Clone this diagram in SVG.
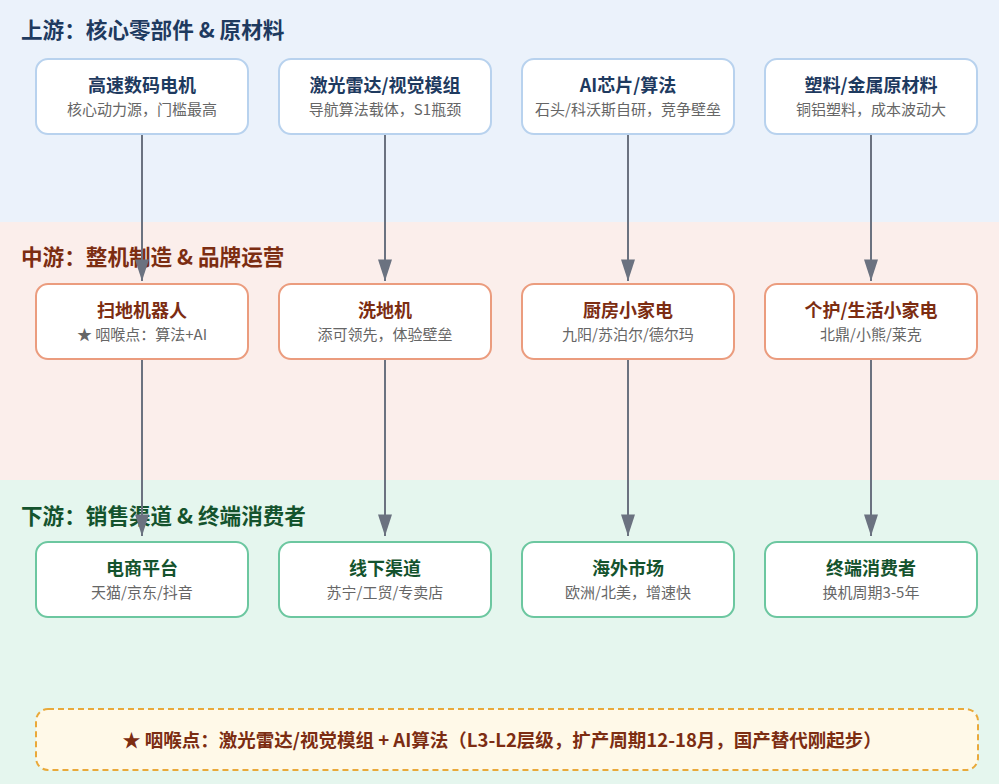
<svg xmlns="http://www.w3.org/2000/svg" width="999" height="784" viewBox="0 0 999 784">
<defs>
<style>
text{font-family:"Noto Sans CJK SC","Noto Sans",sans-serif}
.sec{font-size:21.6px;font-weight:700}
.t{font-size:18px;font-weight:700;text-anchor:middle}
.s{font-size:15px;fill:#666;text-anchor:middle}
.up rect{fill:#fff;stroke:#b8d2ee;stroke-width:2}
.up .t{fill:#1e3a5f}
.mid rect{fill:#fff;stroke:#eb9c7e;stroke-width:2}
.mid .t{fill:#7c2d12}
.dn rect{fill:#fff;stroke:#6cc7a0;stroke-width:2}
.dn .t{fill:#14532d}
.conn line{stroke:#6b7280;stroke-width:2}
</style>
<marker id="ah" markerUnits="userSpaceOnUse" markerWidth="22" markerHeight="14" viewBox="0 0 20 13" refX="20" refY="6.5" orient="auto">
<path d="M0,0 L20,6.5 L0,13 z" fill="#6b7280"/>
</marker>
</defs>
<rect x="0" y="0" width="999" height="222" fill="#ebf2fb"/>
<rect x="0" y="222" width="999" height="258" fill="#fbeeeb"/>
<rect x="0" y="480" width="999" height="304" fill="#e5f6ee"/>
<text class="sec" x="21" y="38" fill="#1e3a5f">上游：核心零部件 &amp; 原材料</text>
<text class="sec" x="21" y="265" fill="#7c2d12">中游：整机制造 &amp; 品牌运营</text>
<text class="sec" x="21" y="524" fill="#14532d">下游：销售渠道 &amp; 终端消费者</text>
<g id="n_motor" class="up"><rect x="36" y="59" width="212" height="75" rx="12"/><text class="t" x="142" y="92">高速数码电机</text><text class="s" x="142" y="115">核心动力源，门槛最高</text></g>
<g id="n_lidar" class="up"><rect x="279" y="59" width="212" height="75" rx="12"/><text class="t" x="385" y="92">激光雷达/视觉模组</text><text class="s" x="385" y="115">导航算法载体，S1瓶颈</text></g>
<g id="n_chip" class="up"><rect x="522" y="59" width="212" height="75" rx="12"/><text class="t" x="628" y="92">AI芯片/算法</text><text class="s" x="628" y="115">石头/科沃斯自研，竞争壁垒</text></g>
<g id="n_mat" class="up"><rect x="765" y="59" width="212" height="75" rx="12"/><text class="t" x="871" y="92">塑料/金属原材料</text><text class="s" x="871" y="115">铜铝塑料，成本波动大</text></g>
<g id="n_robot" class="mid"><rect x="36" y="284" width="212" height="75" rx="12"/><text class="t" x="142" y="317">扫地机器人</text><text class="s" x="142" y="340">★ 咽喉点：算法+AI</text></g>
<g id="n_wash" class="mid"><rect x="279" y="284" width="212" height="75" rx="12"/><text class="t" x="385" y="317">洗地机</text><text class="s" x="385" y="340">添可领先，体验壁垒</text></g>
<g id="n_kitchen" class="mid"><rect x="522" y="284" width="212" height="75" rx="12"/><text class="t" x="628" y="317">厨房小家电</text><text class="s" x="628" y="340">九阳/苏泊尔/德尔玛</text></g>
<g id="n_care" class="mid"><rect x="765" y="284" width="212" height="75" rx="12"/><text class="t" x="871" y="317">个护/生活小家电</text><text class="s" x="871" y="340">北鼎/小熊/莱克</text></g>
<g id="n_ecom" class="dn"><rect x="36" y="542" width="212" height="75" rx="12"/><text class="t" x="142" y="575">电商平台</text><text class="s" x="142" y="598">天猫/京东/抖音</text></g>
<g id="n_offline" class="dn"><rect x="279" y="542" width="212" height="75" rx="12"/><text class="t" x="385" y="575">线下渠道</text><text class="s" x="385" y="598">苏宁/工贸/专卖店</text></g>
<g id="n_overseas" class="dn"><rect x="522" y="542" width="212" height="75" rx="12"/><text class="t" x="628" y="575">海外市场</text><text class="s" x="628" y="598">欧洲/北美，增速快</text></g>
<g id="n_consumer" class="dn"><rect x="765" y="542" width="212" height="75" rx="12"/><text class="t" x="871" y="575">终端消费者</text><text class="s" x="871" y="598">换机周期3-5年</text></g>
<g id="connectors" class="conn">
<line x1="142" y1="135" x2="142" y2="281" marker-end="url(#ah)"/>
<line x1="385" y1="135" x2="385" y2="281" marker-end="url(#ah)"/>
<line x1="628" y1="135" x2="628" y2="281" marker-end="url(#ah)"/>
<line x1="871" y1="135" x2="871" y2="281" marker-end="url(#ah)"/>
<line x1="142" y1="360" x2="142" y2="536" marker-end="url(#ah)"/>
<line x1="385" y1="360" x2="385" y2="536" marker-end="url(#ah)"/>
<line x1="628" y1="360" x2="628" y2="536" marker-end="url(#ah)"/>
<line x1="871" y1="360" x2="871" y2="536" marker-end="url(#ah)"/>
</g>
<g id="note">
<rect x="36" y="709" width="942" height="61" rx="12" fill="#fff9e8" stroke="#e9a93a" stroke-width="2" stroke-dasharray="6 4"/>
<text x="502" y="747" text-anchor="middle" font-size="18.5" font-weight="700" fill="#7c2d12">★ 咽喉点：激光雷达/视觉模组 + AI算法（L3-L2层级，扩产周期12-18月，国产替代刚起步）</text>
</g>
</svg>
